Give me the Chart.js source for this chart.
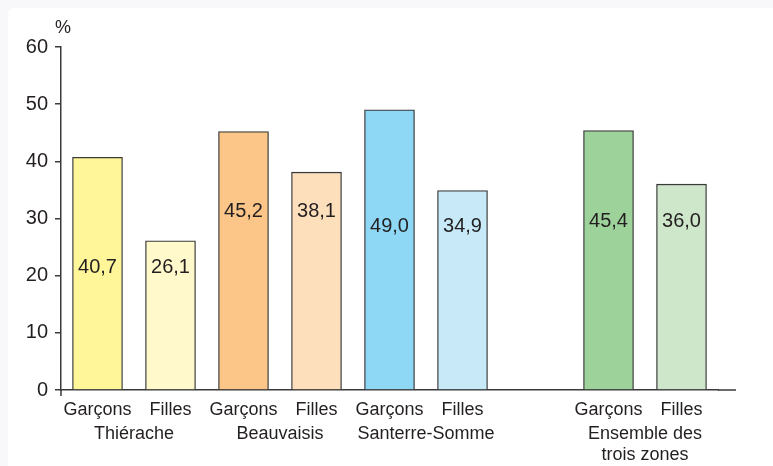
<!DOCTYPE html>
<html lang="fr">
<head>
<meta charset="utf-8">
<script src="https://cdn.jsdelivr.net/npm/chart.js@4"></script>
<style>
  html, body { margin: 0; padding: 0; background: #f8f8fa; }
  #panel { position: absolute; left: 8px; top: 8px; right: 0; bottom: 0; background: #fff; border-radius: 6px 0 0 0; }
  #wrap { position: absolute; left: 0; top: 0; width: 773px; height: 466px; }
</style>
</head>
<body>
<div id="panel"></div>
<div id="wrap"><canvas id="chart"></canvas></div>
<script>
// === DONNÉES ===
const zones = [["Thiérache"], ["Beauvaisis"], ["Santerre-Somme"], ["Ensemble des", "trois zones"]];
const sexes = ["Garçons", "Filles"];
const garcons = [40.7, 45.2, 49.0, 45.4];
const filles = [26.1, 38.1, 34.9, 36.0];
const garconsColors = ["#fff699", "#fbc688", "#8ed8f6", "#9ed29b"];
const fillesColors = ["#fff9cc", "#fddfbc", "#c7e9f8", "#cee6ca"];
const yTicks = [0, 10, 20, 30, 40, 50, 60];

const textColor = "#231f20";
const axisColor = "#3a3a3a";
const family = "'Liberation Sans', Arial, sans-serif";
const font = { family, size: 18 };
const numFont = { family, size: 20 };

// une case vide avant "Ensemble des trois zones"
const labels = [];
const values = [];
const colors = [];
const groupIndex = []; // index des deux barres de chaque zone
zones.forEach((z, i) => {
  if (i === zones.length - 1) {
    labels.push("");
    values.push(null);
    colors.push("transparent");
  }
  groupIndex.push([labels.length, labels.length + 1]);
  labels.push(sexes[0], sexes[1]);
  values.push(garcons[i], filles[i]);
  colors.push(garconsColors[i], fillesColors[i]);
});

// === PLUGIN : étiquettes, groupes, prolongement des axes ===
const decor = {
  id: "decor",
  afterDatasetsDraw(chart) {
    const { ctx, chartArea, scales } = chart;
    const x = scales.x, y = scales.y;
    const meta = chart.getDatasetMeta(0);
    ctx.save();

    // prolongement des axes
    ctx.strokeStyle = axisColor;
    ctx.lineWidth = 1.5;
    ctx.beginPath();
    ctx.moveTo(chartArea.right, chartArea.bottom);
    ctx.lineTo(chartArea.right + 18, chartArea.bottom);
    ctx.moveTo(chartArea.left, chartArea.bottom);
    ctx.lineTo(chartArea.left, chartArea.bottom + 6);
    ctx.stroke();

    ctx.fillStyle = textColor;
    ctx.textAlign = "center";
    ctx.textBaseline = "middle";

    // "%" en haut de l'axe
    ctx.font = `18px ${family}`;
    ctx.fillText("%", chartArea.left + 2, chartArea.top - 19);

    // valeurs dans les barres (même hauteur pour les deux barres d'une zone)
    groupIndex.forEach((pair, g) => {
      const lvl = Math.min(values[pair[0]], values[pair[1]]) * 0.82;
      ctx.font = `${numFont.size}px ${family}`;
      pair.forEach((idx) => {
        const bar = meta.data[idx];
        ctx.fillText(values[idx].toFixed(1).replace(".", ","), bar.x, y.getPixelForValue(lvl));
      });

      // nom de la zone
      ctx.font = `${font.size}px ${family}`;
      const cx = (x.getPixelForValue(pair[0]) + x.getPixelForValue(pair[1])) / 2;
      zones[g].forEach((line, k) => {
        ctx.fillText(line, cx, chartArea.bottom + 44 + k * 21);
      });
    });
    ctx.restore();
  },
};

new Chart(document.getElementById("chart"), {
  type: "bar",
  data: {
    labels,
    datasets: [
      {
        data: values,
        backgroundColor: colors,
        borderColor: axisColor,
        borderWidth: 1.3,
        barThickness: 50,
      },
    ],
  },
  options: {
    responsive: true,
    maintainAspectRatio: false,
    animation: false,
    layout: { padding: { left: 0, top: 47, right: 55, bottom: 0 } },
    plugins: { legend: { display: false }, tooltip: { enabled: false } },
    scales: {
      x: {
        afterFit: (s) => { s.height = 76; },
        grid: { display: false, drawTicks: false },
        border: { display: true, color: axisColor, width: 1.5 },
        ticks: { color: textColor, font, padding: 9, maxRotation: 0, autoSkip: false },
      },
      y: {
        min: 0,
        max: 60,
        afterFit: (s) => { s.width = 61; },
        afterBuildTicks: (s) => { s.ticks = yTicks.map((v) => ({ value: v })); },
        grid: { display: true, drawOnChartArea: false, drawTicks: true, tickLength: 6, color: axisColor, lineWidth: 1.5 },
        border: { display: true, color: axisColor, width: 1.5 },
        ticks: { color: textColor, font: numFont, padding: 7 },
      },
    },
  },
  plugins: [decor],
});
</script>
</body>
</html>
